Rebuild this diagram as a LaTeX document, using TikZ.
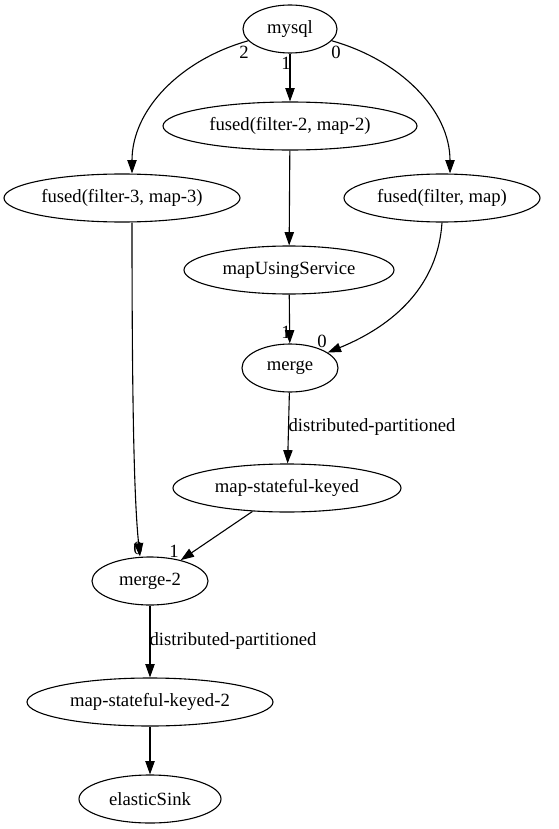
\documentclass[tikz,border=0pt]{standalone}
\usepackage{fontspec}
\setmainfont{Liberation Serif}
\usetikzlibrary{shapes.geometric,arrows.meta}
\begin{document}
\begin{tikzpicture}[x=1pt,y=-1pt,
  nd/.style={draw, ellipse, line width=1.1pt, inner sep=0pt, minimum height=48pt, font=\fontsize{18.67}{20}\selectfont},
  lbl/.style={inner sep=0pt, font=\fontsize{18.67}{20}\selectfont},
  edge/.style={line width=1.1pt, -{Triangle[length=13.3pt,width=9.3pt]}}]
\useasboundingbox (0,0) rectangle (558,829);
\node[nd, minimum width=94pt]  (mysql) at (290,29)  {mysql};
\node[nd, minimum width=254pt] (f2)    at (290,126) {fused(filter-2, map-2)};
\node[nd, minimum width=236pt] (f3)    at (122,198) {fused(filter-3, map-3)};
\node[nd, minimum width=196pt] (ff)    at (442,198) {fused(filter, map)};
\node[nd, minimum width=210pt] (mus)   at (289,270) {mapUsingService};
\node[nd, minimum width=96pt]  (merge) at (290,368) {merge};
\node[nd, minimum width=228pt] (msk)   at (287,488) {map-stateful-keyed};
\node[nd, minimum width=116pt] (m2)    at (150,581) {merge-2};
\node[nd, minimum width=246pt] (msk2)  at (150,702) {map-stateful-keyed-2};
\node[nd, minimum width=142pt] (sink)  at (150,799) {elasticSink};

\draw[edge] (mysql) -- (f2);
\draw[edge] (mysql) .. controls (180,60) and (132,110) .. ([xshift=10pt]f3.north);
\draw[edge] (mysql) .. controls (400,60) and (450,110) .. ([xshift=8pt]ff.north);
\draw[edge] (f2) -- (mus);
\draw[edge] (mus) -- (merge);
\draw[edge] (ff.south) .. controls (438,285) and (395,325) .. (merge);
\draw[edge] (merge) -- (msk);
\draw[edge] ([xshift=10pt]f3.south) .. controls (132,400) and (134,500) .. ([xshift=-10pt]m2.north);
\draw[edge] (msk) -- (m2);
\draw[edge] (m2) -- (msk2);
\draw[edge] (msk2) -- (sink);

\node[lbl] (l2)  at (244,52)  {2};
\node[lbl] (l1)  at (286,63)  {1};
\node[lbl] (l0)  at (336,52)  {0};
\node[lbl] (lm1) at (286,332) {1};
\node[lbl] (lm0) at (322,341) {0};
\node[lbl] (ln0) at (138,548) {0};
\node[lbl] (ln1) at (174,551) {1};
\node[lbl] (dp1) at (372,427) {distributed-partitioned};
\node[lbl] (dp2) at (233,641) {distributed-partitioned};
\end{tikzpicture}
\end{document}
